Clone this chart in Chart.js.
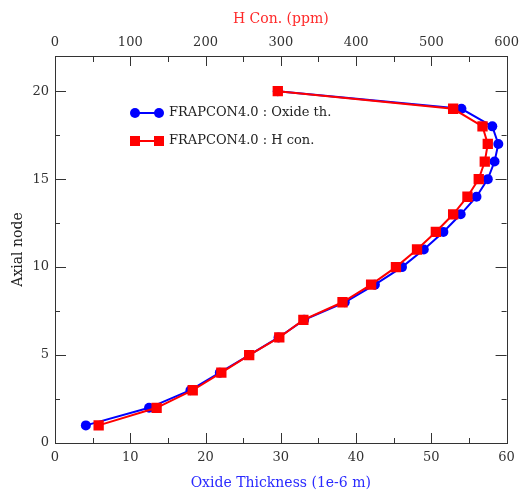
<!DOCTYPE html>
<html>
<head>
<meta charset="utf-8">
<script src="https://cdn.jsdelivr.net/npm/chart.js@4/dist/chart.umd.min.js"></script>
<style>
  html, body { margin: 0; padding: 0; background: #fff; }
  .chart-box { position: relative; width: 525px; height: 490px; }
</style>
</head>
<body>
<div class="chart-box"><canvas id="chart"></canvas></div>
<script>
// axial nodes 1..20
const nodes = [1, 2, 3, 4, 5, 6, 7, 8, 9, 10, 11, 12, 13, 14, 15, 16, 17, 18, 19, 20];
// oxide thickness (1e-6 m), bottom axis
const oxideThickness = [4.1, 12.5, 18.0, 21.9, 25.8, 29.7, 33.1, 38.5, 42.5, 46.1,
                        49.0, 51.6, 53.9, 56.0, 57.5, 58.4, 58.9, 58.1, 54.0, 29.6];
// hydrogen concentration (ppm), top axis
const hydrogenPpm = [58, 135, 183, 221, 258, 298, 330, 382, 420, 453,
                     481, 506, 529, 548, 563, 571, 575, 568, 529, 296];

const oxideTicks = [0, 10, 20, 30, 40, 50, 60];
const hydrogenTicks = [0, 100, 200, 300, 400, 500, 600];
const nodeTicks = [0, 5, 10, 15, 20];

const serif = 'DejaVu Serif';
const tickFont = { family: serif, size: 13 };

// inward tick marks and the frame round the plot
const frameTicks = {
  id: 'frameTicks',
  afterDatasetsDraw(chart) {
    const { ctx, chartArea: a, scales } = chart;
    ctx.save();
    ctx.strokeStyle = '#333';
    ctx.lineWidth = 1;
    ctx.beginPath();
    for (let v = 0; v <= 60; v += 5) {
      const px = Math.round(scales.x.getPixelForValue(v)) + 0.5;
      const len = v % 10 === 0 ? 10 : 5;
      ctx.moveTo(px, a.bottom); ctx.lineTo(px, a.bottom - len);
    }
    for (let v = 0; v <= 600; v += 50) {
      const px = Math.round(scales.x2.getPixelForValue(v)) + 0.5;
      const len = v % 100 === 0 ? 10 : 6;
      ctx.moveTo(px, a.top); ctx.lineTo(px, a.top + len);
    }
    for (let v = 0; v <= 20; v += 2.5) {
      const py = Math.round(scales.y.getPixelForValue(v)) + 0.5;
      const len = v % 5 === 0 ? 11 : 5;
      ctx.moveTo(a.left, py); ctx.lineTo(a.left + len, py);
      ctx.moveTo(a.right, py); ctx.lineTo(a.right - len, py);
    }
    ctx.stroke();
    ctx.strokeRect(Math.round(a.left) + 0.5, Math.round(a.top) + 0.5,
                   Math.round(a.right - a.left), Math.round(a.bottom - a.top));
    ctx.restore();
  }
};

// legend inside the plot, top left
const innerLegend = {
  id: 'innerLegend',
  afterDraw(chart) {
    const { ctx } = chart;
    const x0 = 135, x1 = 159;
    const rows = [113, 141];
    ctx.save();
    chart.data.datasets.forEach((ds, i) => {
      const y = rows[i];
      ctx.strokeStyle = ds.borderColor;
      ctx.fillStyle = ds.backgroundColor;
      ctx.lineWidth = 2;
      ctx.beginPath(); ctx.moveTo(x0, y); ctx.lineTo(x1, y); ctx.stroke();
      [x0, x1].forEach(px => {
        if (ds.pointStyle === 'rect') {
          ctx.fillRect(px - 5, y - 5, 10, 10);
        } else {
          ctx.beginPath(); ctx.arc(px, y, 5, 0, Math.PI * 2); ctx.fill();
        }
      });
      ctx.fillStyle = '#222';
      ctx.font = '13px "' + serif + '"';
      ctx.textBaseline = 'middle';
      ctx.fillText(ds.label, 169, y);
    });
    ctx.restore();
  }
};

new Chart(document.getElementById('chart'), {
  type: 'scatter',
  data: {
    datasets: [
      {
        label: 'FRAPCON4.0 : Oxide th.',
        data: nodes.map((n, i) => ({ x: oxideThickness[i], y: n })),
        xAxisID: 'x',
        showLine: true,
        borderColor: '#0000ff',
        backgroundColor: '#0000ff',
        borderWidth: 2,
        pointStyle: 'circle',
        pointRadius: 5,
        pointBorderWidth: 0,
        order: 2
      },
      {
        label: 'FRAPCON4.0 : H con.',
        data: nodes.map((n, i) => ({ x: hydrogenPpm[i], y: n })),
        xAxisID: 'x2',
        showLine: true,
        borderColor: '#ff0000',
        backgroundColor: '#ff0000',
        borderWidth: 2,
        pointStyle: 'rect',
        pointRadius: 7.3,
        pointBorderWidth: 0,
        order: 1
      }
    ]
  },
  options: {
    responsive: true,
    maintainAspectRatio: false,
    animation: false,
    layout: { padding: { right: 14 } },
    plugins: { legend: { display: false }, tooltip: { enabled: false } },
    scales: {
      x: {
        type: 'linear', position: 'bottom', min: 0, max: 60,
        afterFit: s => { s.height = 47; },
        afterBuildTicks: s => { s.ticks = oxideTicks.map(v => ({ value: v })); },
        ticks: { font: tickFont, color: '#333', padding: 7, maxRotation: 0 },
        grid: { drawOnChartArea: false, drawTicks: false },
        border: { display: false },
        title: {
          display: true, text: 'Oxide Thickness (1e-6 m)', color: '#2a2aff',
          font: { family: serif, size: 14, lineHeight: 1 }, padding: { top: 0, bottom: 0 }
        }
      },
      x2: {
        type: 'linear', position: 'top', min: 0, max: 600,
        afterFit: s => { s.height = 56; },
        afterBuildTicks: s => { s.ticks = hydrogenTicks.map(v => ({ value: v })); },
        ticks: { font: tickFont, color: '#333', padding: 6, maxRotation: 0 },
        grid: { drawOnChartArea: false, drawTicks: false },
        border: { display: false },
        title: {
          display: true, text: 'H Con. (ppm)', color: '#ff2a2a',
          font: { family: serif, size: 14, lineHeight: 1 }, padding: { top: 12, bottom: 0 }
        }
      },
      y: {
        type: 'linear', position: 'left', min: 0, max: 22,
        afterFit: s => { s.width = 55; },
        afterBuildTicks: s => { s.ticks = nodeTicks.map(v => ({ value: v })); },
        ticks: { font: tickFont, color: '#333', padding: 6 },
        grid: { drawOnChartArea: false, drawTicks: false },
        border: { display: false },
        title: {
          display: true, text: 'Axial node', color: '#222',
          font: { family: serif, size: 14, lineHeight: 1 }, padding: { top: 11, bottom: 0 }
        }
      }
    }
  },
  plugins: [frameTicks, innerLegend]
});
</script>
</body>
</html>
